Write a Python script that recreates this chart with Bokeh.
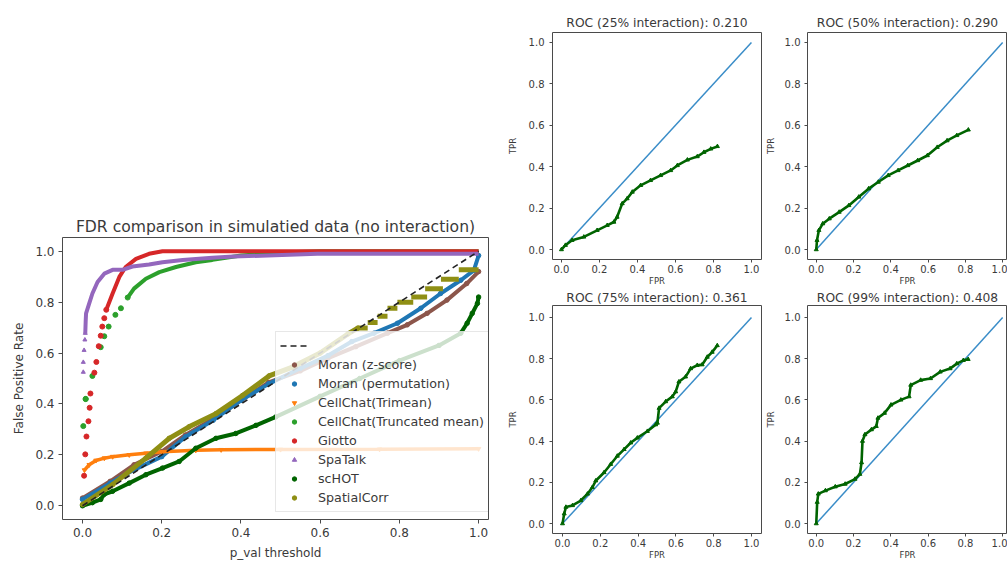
from bokeh.plotting import figure
from bokeh.layouts import row, column
from bokeh.models import Spacer, Legend, LegendItem, Range1d, FixedTicker, NumeralTickFormatter
from bokeh.embed import file_html
from bokeh.resources import INLINE

FONT = "DejaVu Sans"
TXT = "#3a3a3a"
FRAME = "#4a4a4a"

# ---------------- data: FDR comparison (left) ----------------
tick_values = [0.0, 0.2, 0.4, 0.6, 0.8, 1.0]
diag_x = [0.0, 1.0]
diag_y = [0.0, 1.0]

moran_z_x = [0.0, 0.07, 0.13, 0.2, 0.26, 0.33, 0.4, 0.47, 0.55, 0.62, 0.69, 0.77, 0.82, 0.87, 0.92, 0.97, 1.0]
moran_z_y = [0.03, 0.096, 0.161, 0.213, 0.278, 0.342, 0.414, 0.485, 0.53, 0.58, 0.625, 0.678, 0.711, 0.756, 0.808, 0.873, 0.92]

moran_p_x = [0.0, 0.07, 0.13, 0.2, 0.26, 0.33, 0.4, 0.47, 0.55, 0.62, 0.68, 0.736, 0.795, 0.854, 0.904, 0.955, 0.988, 1.0]
moran_p_y = [0.025, 0.089, 0.141, 0.193, 0.271, 0.336, 0.414, 0.479, 0.54, 0.59, 0.645, 0.678, 0.717, 0.776, 0.834, 0.886, 0.925, 0.983]

trimean_x = [0.005, 0.017, 0.034, 0.055, 0.076, 0.118, 0.16, 0.202, 0.286, 0.35, 0.5, 0.75, 1.0]
trimean_y = [0.14, 0.161, 0.178, 0.187, 0.193, 0.2, 0.206, 0.212, 0.218, 0.22, 0.221, 0.222, 0.224]

trunc_sparse_x = [0.002, 0.008, 0.008, 0.025, 0.046, 0.055, 0.066, 0.083, 0.097, 0.114]
trunc_sparse_y = [0.313, 0.419, 0.42, 0.51, 0.623, 0.666, 0.704, 0.75, 0.776, 0.818]
trunc_x = [0.114, 0.13, 0.16, 0.194, 0.236, 0.286, 0.328, 0.4, 0.5, 0.6, 1.0]
trunc_y = [0.818, 0.853, 0.892, 0.918, 0.938, 0.957, 0.966, 0.983, 0.995, 1.0, 1.0]

giotto_sparse_x = [0.004, 0.007, 0.010, 0.015, 0.018, 0.020, 0.030, 0.035, 0.041, 0.046, 0.050, 0.055, 0.060]
giotto_sparse_y = [0.118, 0.202, 0.272, 0.332, 0.385, 0.441, 0.523, 0.565, 0.627, 0.668, 0.704, 0.737, 0.77]
giotto_x = [0.060, 0.065, 0.076, 0.093, 0.109, 0.135, 0.168, 0.202, 0.3, 0.5, 0.8, 1.0]
giotto_y = [0.77, 0.79, 0.834, 0.899, 0.938, 0.97, 0.99, 1.0, 1.0, 1.0, 1.0, 1.0]

spatalk_sparse_x = [0.002, 0.002, 0.004, 0.006, 0.007]
spatalk_sparse_y = [0.525, 0.564, 0.611, 0.652, 0.678]
spatalk_x = [0.007, 0.008, 0.009, 0.017, 0.025, 0.038, 0.055, 0.076, 0.101, 0.126, 0.168, 0.202, 0.253, 0.328, 0.381, 0.593, 1.0]
spatalk_y = [0.678, 0.724, 0.756, 0.795, 0.834, 0.879, 0.912, 0.927, 0.927, 0.94, 0.948, 0.957, 0.966, 0.974, 0.979, 0.99, 0.99]

schot_x = [0.0, 0.025, 0.046, 0.055, 0.076, 0.118, 0.16, 0.202, 0.244, 0.286, 0.337, 0.387, 0.438, 0.488, 0.6, 0.7, 0.8, 0.9, 0.955, 0.971, 0.984, 0.997, 1.0]
schot_y = [0.0, 0.012, 0.025, 0.045, 0.057, 0.089, 0.122, 0.148, 0.174, 0.226, 0.265, 0.284, 0.316, 0.349, 0.43, 0.5, 0.57, 0.63, 0.678, 0.717, 0.756, 0.795, 0.82]

spcorr_x = [0.0, 0.076, 0.16, 0.219, 0.269, 0.337, 0.404, 0.471, 0.53, 0.6, 0.67, 0.695]
spcorr_y = [0.005, 0.083, 0.187, 0.265, 0.31, 0.362, 0.433, 0.51, 0.545, 0.6, 0.675, 0.698]
spcorr_step_x0 = [0.695, 0.72, 0.745, 0.77, 0.795, 0.83, 0.865, 0.905, 0.95]
spcorr_step_x1 = [0.72, 0.745, 0.77, 0.795, 0.835, 0.87, 0.91, 0.95, 1.0]
spcorr_step_y = [0.698, 0.72, 0.745, 0.776, 0.80, 0.82, 0.853, 0.89, 0.927]

legend_labels = [" ", "Moran (z-score)", "Moran (permutation)", "CellChat(Trimean)",
                 "CellChat(Truncated mean)", "Giotto", "SpaTalk", "scHOT", "SpatialCorr"]

# ---------------- data: ROC panels (right) ----------------
roc_titles = ["ROC (25% interaction): 0.210", "ROC (50% interaction): 0.290",
              "ROC (75% interaction): 0.361", "ROC (99% interaction): 0.408"]

roc25_fpr = [0.0, 0.021, 0.056, 0.118, 0.188, 0.241, 0.276, 0.293, 0.320, 0.346, 0.373, 0.417, 0.469, 0.522, 0.575, 0.610, 0.663, 0.715, 0.750, 0.786, 0.821]
roc25_tpr = [0.0, 0.021, 0.045, 0.061, 0.093, 0.117, 0.133, 0.157, 0.222, 0.246, 0.278, 0.310, 0.334, 0.358, 0.382, 0.406, 0.433, 0.449, 0.470, 0.486, 0.498]

roc50_fpr = [0.0, 0.004, 0.014, 0.035, 0.070, 0.123, 0.175, 0.228, 0.281, 0.333, 0.386, 0.439, 0.491, 0.544, 0.596, 0.649, 0.702, 0.754, 0.816]
roc50_tpr = [0.0, 0.045, 0.093, 0.125, 0.149, 0.181, 0.213, 0.254, 0.294, 0.326, 0.358, 0.382, 0.406, 0.430, 0.454, 0.494, 0.526, 0.551, 0.578]

roc75_fpr = [0.0, 0.009, 0.018, 0.053, 0.097, 0.132, 0.158, 0.176, 0.220, 0.255, 0.290, 0.326, 0.361, 0.396, 0.449, 0.493, 0.502, 0.511, 0.546, 0.581, 0.599, 0.616, 0.651, 0.678, 0.713, 0.739, 0.766, 0.792, 0.819]
roc75_tpr = [0.0, 0.048, 0.080, 0.088, 0.112, 0.144, 0.176, 0.208, 0.248, 0.288, 0.328, 0.360, 0.392, 0.416, 0.448, 0.480, 0.488, 0.560, 0.592, 0.616, 0.640, 0.688, 0.712, 0.752, 0.768, 0.771, 0.808, 0.832, 0.864]

roc99_fpr = [0.0, 0.005, 0.011, 0.049, 0.102, 0.155, 0.208, 0.234, 0.243, 0.248, 0.261, 0.296, 0.322, 0.331, 0.366, 0.401, 0.454, 0.498, 0.507, 0.560, 0.613, 0.665, 0.718, 0.754, 0.789, 0.815]
roc99_tpr = [0.0, 0.104, 0.144, 0.160, 0.179, 0.192, 0.216, 0.240, 0.296, 0.400, 0.432, 0.456, 0.472, 0.512, 0.536, 0.576, 0.600, 0.616, 0.672, 0.696, 0.704, 0.736, 0.752, 0.776, 0.792, 0.797]

roc_data = [(roc25_fpr, roc25_tpr), (roc50_fpr, roc50_tpr), (roc75_fpr, roc75_tpr), (roc99_fpr, roc99_tpr)]


def style(p, tick_size, label_size, tick_out, tick_standoff, label_standoff):
    p.xgrid.visible = False
    p.ygrid.visible = False
    p.outline_line_color = FRAME
    p.outline_line_width = 1
    p.background_fill_color = "white"
    p.border_fill_color = "white"
    for ax in (p.xaxis[0], p.yaxis[0]):
        ax.ticker = FixedTicker(ticks=tick_values)
        ax.formatter = NumeralTickFormatter(format="0.0")
        ax.axis_line_color = None
        ax.major_tick_line_color = FRAME
        ax.major_tick_out = tick_out
        ax.major_tick_in = 0
        ax.minor_tick_line_color = None
        ax.major_label_text_font = FONT
        ax.major_label_text_font_size = tick_size
        ax.major_label_text_color = TXT
        ax.axis_label_text_font = FONT
        ax.axis_label_text_font_size = label_size
        ax.axis_label_text_font_style = "normal"
        ax.axis_label_text_color = TXT
        ax.major_label_standoff = tick_standoff
        ax.axis_label_standoff = label_standoff


# ---------------- left figure ----------------
left = figure(width=500, height=350, output_backend="svg", toolbar_location=None,
              x_range=Range1d(-0.0505, 1.025), y_range=Range1d(-0.054, 1.054),
              min_border_left=62, min_border_right=12, min_border_top=25, min_border_bottom=40,
              x_axis_label="p_val threshold", y_axis_label="False Positive Rate")
style(left, "12px", "12px", 4, 4, 6)
left.title.text = "FDR comparison in simulatied data (no interaction)"
left.title.text_font = FONT
left.title.text_font_size = "15.6px"
left.title.text_font_style = "normal"
left.title.text_color = TXT
left.title.align = "center"
left.title.standoff = 3

LW = 4
MS = 4.5
c_mz, c_mp, c_tri, c_tr, c_gi, c_sp, c_sc, c_cor = ("#8c564b", "#1f77b4", "#ff7f0e", "#2ca02c",
                                                    "#d62728", "#9467bd", "#006400", "#8f8f14")

left.line(moran_z_x, moran_z_y, line_color=c_mz, line_width=LW)
r_mz = left.scatter(moran_z_x, moran_z_y, marker="circle", size=MS, color=c_mz)
left.line(moran_p_x, moran_p_y, line_color=c_mp, line_width=LW)
r_mp = left.scatter(moran_p_x, moran_p_y, marker="circle", size=MS, color=c_mp)
left.line(trimean_x, trimean_y, line_color=c_tri, line_width=3.5)
r_tri = left.scatter(trimean_x, trimean_y, marker="inverted_triangle", size=MS, color=c_tri)
left.line(trunc_x, trunc_y, line_color=c_tr, line_width=LW)
r_tr = left.scatter(trunc_sparse_x, trunc_sparse_y, marker="circle", size=5, color=c_tr)
left.line(giotto_x, giotto_y, line_color=c_gi, line_width=LW)
r_gi = left.scatter(giotto_sparse_x, giotto_sparse_y, marker="circle", size=5, color=c_gi)
left.line(spatalk_x, spatalk_y, line_color=c_sp, line_width=LW)
r_sp = left.scatter(spatalk_sparse_x, spatalk_sparse_y, marker="triangle", size=4, color=c_sp)
left.line(schot_x, schot_y, line_color=c_sc, line_width=LW)
r_sc = left.scatter(schot_x, schot_y, marker="circle", size=MS, color=c_sc)
left.line(spcorr_x, spcorr_y, line_color=c_cor, line_width=5)
left.segment(x0=spcorr_step_x0, y0=spcorr_step_y, x1=spcorr_step_x1, y1=spcorr_step_y,
             line_color=c_cor, line_width=5)
r_cor = left.scatter(spcorr_x, spcorr_y, marker="circle", size=MS, color=c_cor)
r_diag = left.line(diag_x, diag_y, line_color="#222222", line_width=1.6, line_dash="6 4")

renderers = [r_diag, r_mz, r_mp, r_tri, r_tr, r_gi, r_sp, r_sc, r_cor]
legend = Legend(items=[LegendItem(label=lab, renderers=[r]) for lab, r in zip(legend_labels, renderers)],
                location=(213, 7))
legend.label_text_font = FONT
legend.label_text_font_size = "12.7px"
legend.label_text_color = TXT
legend.label_height = 19
legend.glyph_height = 11
legend.glyph_width = 28
legend.label_standoff = 10
legend.spacing = 0
legend.padding = 4
legend.margin = 0
legend.border_line_color = "#d0d0d0"
legend.border_line_width = 1
legend.background_fill_color = "white"
legend.background_fill_alpha = 0.8
left.add_layout(legend)

left_col = column(Spacer(width=500, height=212), left)


# ---------------- ROC panels ----------------
def roc_fig(i, width, height, bl, br, bt, bb, x_rng, y_rng, tstand, tick_st, lab_st):
    p = figure(width=width, height=height, output_backend="svg", toolbar_location=None,
               x_range=Range1d(*x_rng), y_range=Range1d(*y_rng),
               min_border_left=bl, min_border_right=br, min_border_top=bt, min_border_bottom=bb,
               x_axis_label="FPR", y_axis_label="TPR")
    style(p, "10px", "8.5px", 3, tick_st, lab_st)
    p.xaxis[0].major_label_standoff = 2
    p.xaxis[0].axis_label_standoff = 0
    p.title.text = roc_titles[i]
    p.title.text_font = FONT
    p.title.text_font_size = "12.3px"
    p.title.text_font_style = "normal"
    p.title.text_color = TXT
    p.title.align = "center"
    p.title.standoff = tstand
    fpr, tpr = roc_data[i]
    p.line(diag_x, diag_y, line_color="#3a8dc8", line_width=1.5)
    p.line(fpr, tpr, line_color="#006400", line_width=2.6)
    p.scatter(fpr, tpr, marker="triangle", size=4, color="#006400")
    return p


top_y = (-0.048, 1.048)
bot_y = (-0.048, 1.058)
f1 = roc_fig(0, 262, 288, 52, 1, 32, 29, (-0.047, 1.053), top_y, 5, 5, 8)
f3 = roc_fig(2, 262, 274, 52, 1, 15, 29, (-0.053, 1.053), bot_y, 1, 5, 8)
f2 = roc_fig(1, 245, 288, 41, 0, 32, 29, (-0.047, 1.026), top_y, 5, 4, 6)
f4 = roc_fig(3, 245, 274, 41, 0, 15, 29, (-0.047, 1.026), bot_y, 1, 4, 6)

layout = row(left_col, column(f1, f3), column(f2, f4))

open("out.html", "w").write(file_html(layout, INLINE))
